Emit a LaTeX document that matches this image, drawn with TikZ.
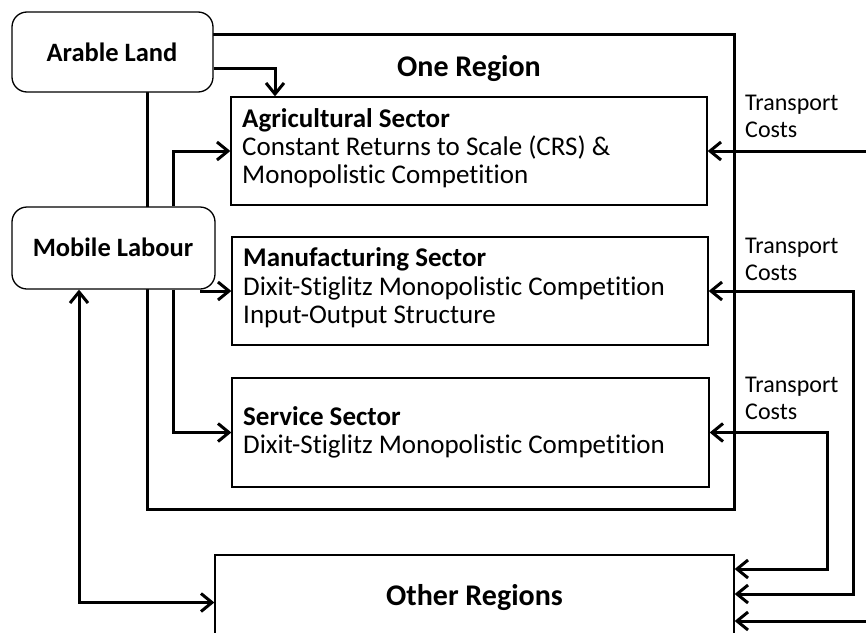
\documentclass[tikz,border=0pt]{standalone}
\usepackage{fontspec}
\setmainfont{Carlito}[Ligatures=NoCommon]
\usetikzlibrary{arrows.meta,calc}
\begin{document}
\begin{tikzpicture}[x=1pt,y=-1pt,
  conn/.style={line width=3pt},
  tip/.tip={Straight Barb[length=11pt,width=18pt,line width=3pt]},
  arr/.style={conn,-tip},
  biarr/.style={conn,tip-tip},
  factor/.style={draw,line width=1.3pt,fill=white,rounded corners=15pt},
  box/.style={draw,line width=1.3pt},
  txt/.style={anchor=base west,inner sep=0pt,font=\fontsize{27}{28}\selectfont},
  head/.style={txt,font=\fontsize{27}{28}\selectfont\bfseries},
  title/.style={anchor=base,inner sep=0pt,font=\fontsize{30}{32}\selectfont\bfseries},
  flabel/.style={anchor=base,inner sep=0pt,font=\fontsize{26.5}{28}\selectfont\bfseries},
  tclabel/.style={anchor=base west,inner sep=0pt,font=\fontsize{24}{27}\selectfont},
]
\useasboundingbox (0,0) rectangle (866,632);
\clip (0,0) rectangle (866,632);

% outer frame of the region
\draw[line width=3pt] (147,34) rectangle (734,509);
\node[title] (onereg) at (469,76.7) {One Region};

% factors of production
\node[factor,minimum width=201pt,minimum height=80pt] (land) at (112.5,52) {};
\node[flabel] (landtxt) at (112,61.7) {Arable Land};
\node[factor,minimum width=203pt,minimum height=82pt] (labour) at (113.5,248) {};
\node[flabel] (labourtxt) at (113,256.7) {Mobile Labour};

% sectors
\node[box,minimum width=476pt,minimum height=108pt] (agri) at (469,151) {};
\node[head] (agri1) at (242,127.7) {Agricultural Sector};
\node[txt]  (agri2) at (242,155.5) {Constant Returns to Scale (CRS) \&};
\node[txt]  (agri3) at (242,183.5) {Monopolistic Competition};

\node[box,minimum width=476pt,minimum height=108pt] (manu) at (470,291) {};
\node[head] (manu1) at (243,266.7) {Manufacturing Sector};
\node[txt]  (manu2) at (243,295) {Dixit-Stiglitz Monopolistic Competition};
\node[txt]  (manu3) at (243,323) {Input-Output Structure};

\node[box,minimum width=477pt,minimum height=109pt] (serv) at (470.5,432.5) {};
\node[head] (serv1) at (243,425) {Service Sector};
\node[txt]  (serv2) at (243,453) {Dixit-Stiglitz Monopolistic Competition};

% the rest of the world
\node[box,minimum width=519pt,minimum height=95pt] (other) at (474.5,602.5) {};
\node[title] (othertxt) at (474.5,605) {Other Regions};

% transport cost labels
\node[tclabel] (tc1a) at (745,110) {Transport};
\node[tclabel] (tc1b) at (745,137) {Costs};
\node[tclabel] (tc2a) at (745,253) {Transport};
\node[tclabel] (tc2b) at (745,280.5) {Costs};
\node[tclabel] (tc3a) at (745,392) {Transport};
\node[tclabel] (tc3b) at (745,419.5) {Costs};

% helper columns
\coordinate (cA) at (173,0);
\coordinate (cB) at (201,0);
\coordinate (cC) at (79,0);
\coordinate (cD) at (275,0);
\coordinate (cE) at (853,0);
\coordinate (cF) at (827,0);
\coordinate (edge) at (866,0);

% land feeds agriculture
\draw[arr] ($(land.east)+(0,16)$) -| (agri.north -| cD);
% labour feeds the three sectors
\draw[arr] (labour.north -| cA) |- (agri.west);
\draw[arr] (labour.south -| cB) |- (manu.west);
\draw[arr] (labour.south -| cA) |- (serv.west);
% labour moves between regions
\draw[biarr] (labour.south -| cC) |- (other.west);

% trade with other regions
\draw[arr] (agri.east -| edge) -- (agri.east);
\draw[biarr] (manu.east) -| ($(other.east -| cE)+(0,-8.5)$) -- ($(other.east)+(0,-8.5)$);
\draw[biarr] (serv.east) -| ($(other.east -| cF)+(0,-33.5)$) -- ($(other.east)+(0,-33.5)$);
\draw[arr] ($(other.east -| edge)+(0,18.5)$) -- ($(other.east)+(0,18.5)$);
\end{tikzpicture}
\end{document}
